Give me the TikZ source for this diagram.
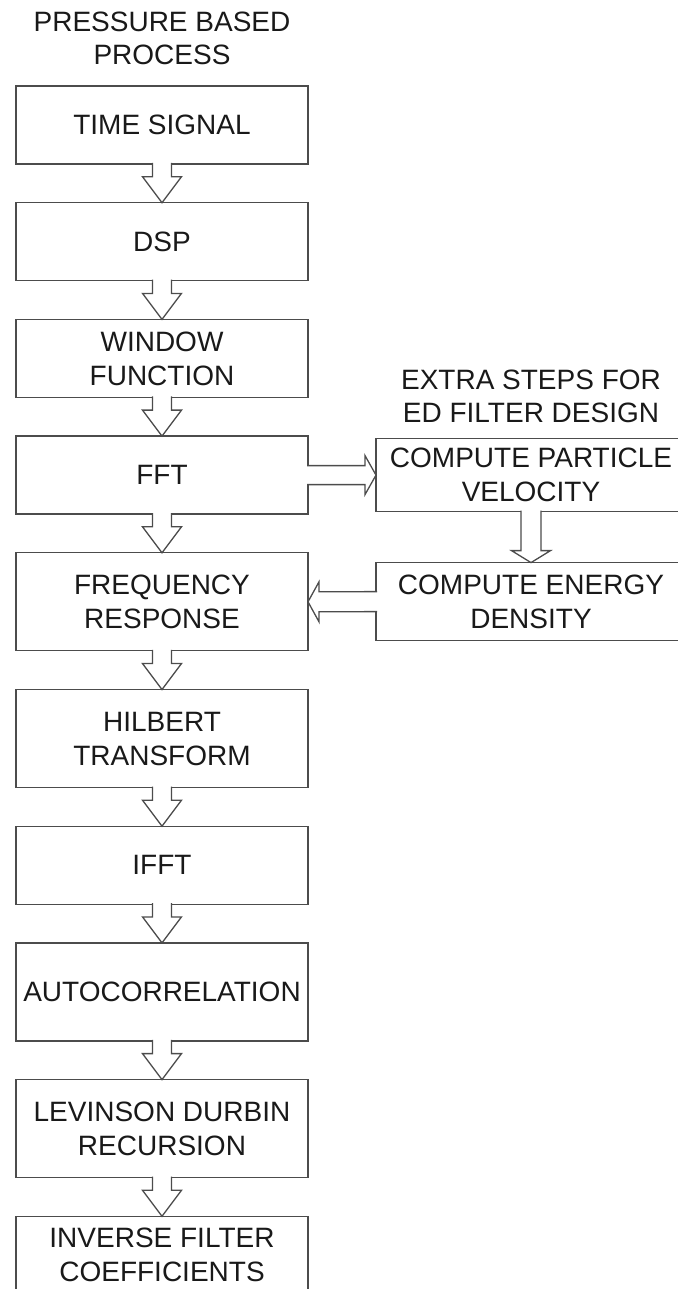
\documentclass[tikz,border=0pt]{standalone}
\usepackage{fontspec}
\setmainfont{Liberation Sans}
\usetikzlibrary{positioning, calc}
\tikzset{%
	box/.style={draw=black!70, line width=0.65pt, rectangle, minimum width=146pt, minimum height=39pt,%
		inner sep=1pt, outer sep=0pt, align=center, text=black!90, font=\fontsize{14}{17}\selectfont},
	tall/.style={minimum height=49pt},
	side/.style={box, minimum width=155pt},
	heading/.style={inner sep=0pt, align=center, text=black!90, font=\fontsize{14}{16.5}\selectfont},
	hollow/.style={draw=black!70, line width=0.65pt, fill=white, line join=miter}
}

\begin{document}
\begin{tikzpicture}[x=0.5pt, y=-0.5pt, node distance=19.35pt]
	\useasboundingbox (0,0) rectangle (678,1289);
	\clip (0,0) rectangle (678,1289);

	\node[box] (time) at (162,125) {TIME SIGNAL};
	\node[box, below=of time] (dsp) {DSP};
	\node[box, below=of dsp] (win) {WINDOW\\FUNCTION};
	\node[box, below=of win] (fft) {FFT};
	\node[box, tall, below=of fft] (freq) {FREQUENCY\\RESPONSE};
	\node[box, tall, below=of freq] (hilb) {HILBERT\\TRANSFORM};
	\node[box, below=of hilb] (ifft) {IFFT};
	\node[box, tall, below=of ifft] (acorr) {AUTOCORRELATION};
	\node[box, tall, below=of acorr] (lev) {LEVINSON DURBIN\\RECURSION};
	\node[box, below=of lev] (inv) {INVERSE FILTER\\COEFFICIENTS};
	\node[heading, above=10.5pt of time] (ptitle) {PRESSURE BASED\\PROCESS};

	\node[side, minimum height=36.5pt, right=34pt of fft] (part) {COMPUTE PARTICLE\\VELOCITY};
	\node[side, below=25.5pt of part] (energy) {COMPUTE ENERGY\\DENSITY};
	\node[heading, above=7.5pt of part] (etitle) {EXTRA STEPS FOR\\ED FILTER DESIGN};

	% hollow block arrows down the main column
	\foreach \a/\b in {time/dsp, dsp/win, win/fft, fft/freq, freq/hilb, hilb/ifft, ifft/acorr, acorr/lev, lev/inv}
		\draw[hollow] ($(\a.south)+(-9.5,-1)$) -- ($(\b.north)+(-9.5,-26)$) -- ($(\b.north)+(-19.5,-26)$)
			-- (\b.north) -- ($(\b.north)+(19.5,-26)$) -- ($(\b.north)+(9.5,-26)$) -- ($(\a.south)+(9.5,-1)$);

	% side branch
	\draw[hollow] ($(fft.east)+(-1,-9.5)$) -- ($(part.west)+(-11,-9.5)$) -- ($(part.west)+(-11,-19.5)$)
		-- (part.west) -- ($(part.west)+(-11,19.5)$) -- ($(part.west)+(-11,9.5)$) -- ($(fft.east)+(-1,9.5)$);
	\draw[hollow] ($(part.south)+(-10,-1)$) -- ($(energy.north)+(-10,-12)$) -- ($(energy.north)+(-19.5,-12)$)
		-- (energy.north) -- ($(energy.north)+(19.5,-12)$) -- ($(energy.north)+(10,-12)$) -- ($(part.south)+(10,-1)$);
	\draw[hollow] ($(energy.west)+(1,-10)$) -- ($(freq.east)+(11,-10)$) -- ($(freq.east)+(11,-20)$)
		-- (freq.east) -- ($(freq.east)+(11,20)$) -- ($(freq.east)+(11,10)$) -- ($(energy.west)+(1,10)$);
\end{tikzpicture}
\end{document}
